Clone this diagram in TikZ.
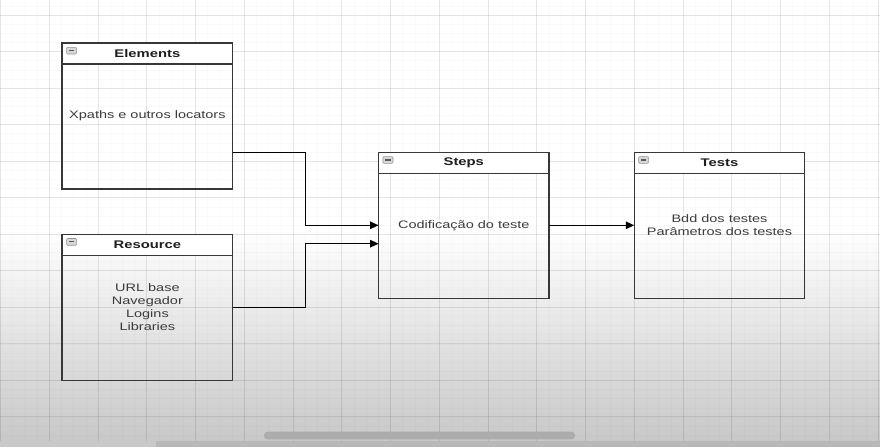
\documentclass[tikz,border=0pt]{standalone}
\usepackage{fontspec}
\setmainfont{Liberation Sans}
\usetikzlibrary{calc,arrows.meta}
\definecolor{bgbot}{RGB}{200,200,200}
\definecolor{boxline}{RGB}{55,55,55}
\definecolor{txt}{RGB}{60,60,60}
\definecolor{ttl}{RGB}{30,30,30}
\definecolor{iconfill}{RGB}{215,215,215}
\definecolor{icondraw}{RGB}{150,150,150}
\definecolor{icondash}{RGB}{90,90,90}
\definecolor{stripdark}{RGB}{184,184,184}
\definecolor{striplight}{RGB}{200,200,200}
\definecolor{scrollc}{RGB}{172,172,172}
\newcommand{\sq}[1]{\scalebox{1}[0.75]{#1}}
\begin{document}
\begin{tikzpicture}[x=1pt,y=-1pt,
  box/.style={draw=boxline, line width=1.4pt, minimum width=170.5pt, minimum height=146pt, inner sep=0pt, outer sep=0pt},
  ttlnode/.style={font=\fontsize{14.8}{17}\selectfont\bfseries, text=ttl, inner sep=0pt},
  bodynode/.style={font=\fontsize{14.5}{13}\selectfont, text=txt, align=center, inner sep=0pt},
  conn/.style={draw=black, line width=1.3pt, -{Triangle[length=8.5pt,width=7.5pt]}},
  majorgrid/.style={draw=black, opacity=0.085, line width=0.9pt},
  minorgrid/.style={draw=black, opacity=0.015, line width=0.6pt},
]
\useasboundingbox (0,0) rectangle (880,447);
% background
\fill[white] (0,0) rectangle (880,231);
\shade[top color=white, bottom color=bgbot] (0,230) rectangle (880,441);
% grid
\foreach \i in {0,...,72} \draw[minorgrid] ({0.5+\i*12.1875},0) -- ({0.5+\i*12.1875},441);
\foreach \j in {-1,...,46} \draw[minorgrid] (0,{15+\j*9.135}) -- (880,{15+\j*9.135});
\foreach \i in {0,...,18} \draw[majorgrid] ({0.5+\i*48.75},0) -- ({0.5+\i*48.75},441);
\foreach \j in {0,...,11} \draw[majorgrid] (0,{15+\j*36.54}) -- (880,{15+\j*36.54});
% bottom bars
\fill[stripdark] (0,441) rectangle (880,447);
\fill[striplight] (0,441) rectangle (156,447);
\fill[scrollc, rounded corners=3.5pt] (264,431.7) rectangle (575,439.3);

\newcommand{\umlbox}[5]{%
  \node[box] (#1) at (#2,#3) {};
  \fill[white] ($(#1.north west)+(0.7,0.7)$) rectangle ($(#1.north east)+(-0.7,21)$);
  \draw[boxline, line width=1.3pt] ($(#1.north west)+(0,21)$) -- ($(#1.north east)+(0,21)$);
  \filldraw[fill=iconfill, draw=icondraw, line width=0.6pt, rounded corners=1pt] ($(#1.north west)+(4.4,4.3)$) rectangle ($(#1.north west)+(14.4,11)$);
  \draw[icondash, line width=1.2pt] ($(#1.north west)+(6.6,7.65)$) -- ($(#1.north west)+(12.2,7.65)$);
  \node[ttlnode] (#1-t) at ($(#1.north)+(0,10.8)$) {\sq{#4}};
  \node[bodynode] (#1-b) at (#1.center) {#5};
}

\umlbox{el}{147.4}{116}{Elements}{\sq{Xpaths e outros locators}}
\umlbox{res}{147.4}{307.2}{Resource}{\sq{URL base}\\\sq{Navegador}\\\sq{Logins}\\\sq{Libraries}}
\umlbox{st}{463.8}{225.3}{Steps}{\sq{Codificação do teste}}
\umlbox{te}{719.5}{225.3}{Tests}{\sq{Bdd dos testes}\\\sq{Parâmetros dos testes}}

% connectors
\draw[conn] ($(el.north east)+(0,109.3)$) -- ++(73.1,0) |- (st.west);
\draw[conn] (res.east) -- ++(73.1,0) |- ($(st.west)+(0,18.4)$);
\draw[conn] (st.east) -- (te.west);
\end{tikzpicture}
\end{document}
